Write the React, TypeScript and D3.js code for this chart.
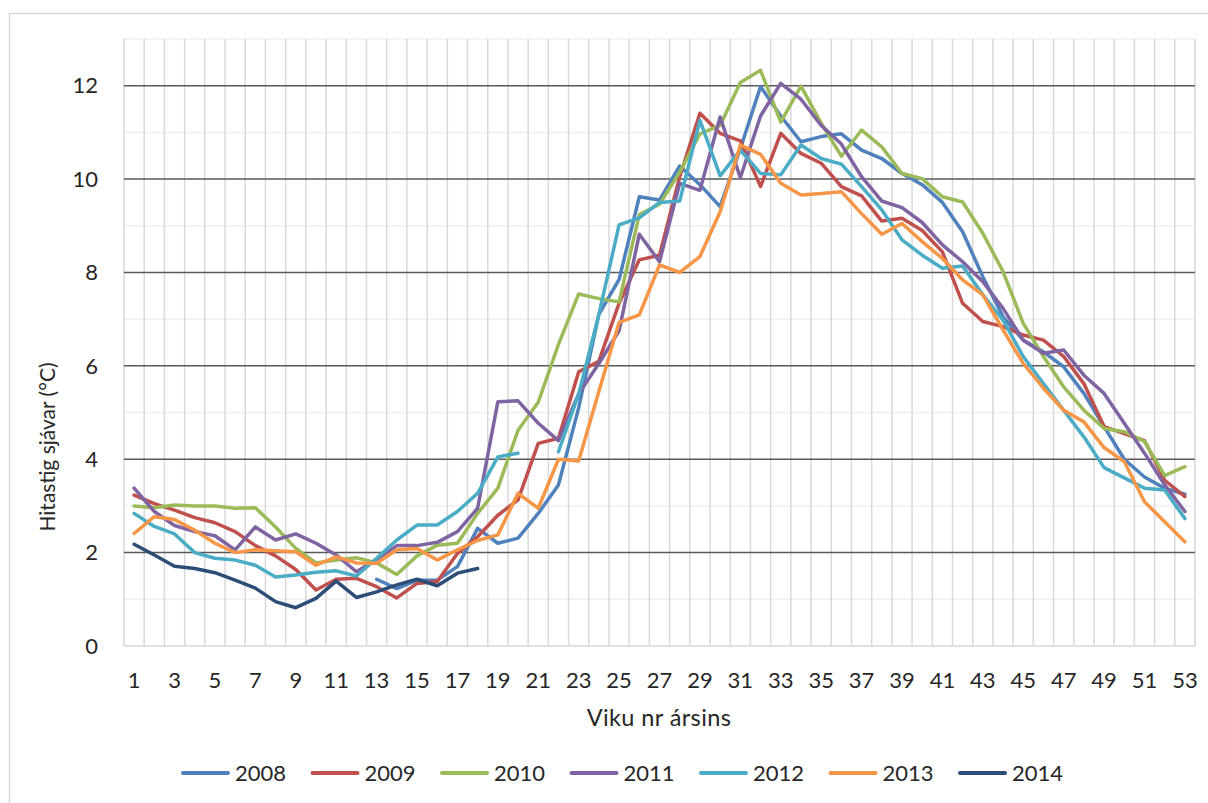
import React, { useEffect, useRef } from 'react';
import * as d3 from 'd3';

const weeks: number[] = d3.range(1, 54);
const tickWeeks: number[] = weeks.filter((w) => w % 2 === 1);
const yTicks: number[] = [0, 2, 4, 6, 8, 10, 12];
const years: string[] = ['2008', '2009', '2010', '2011', '2012', '2013', '2014'];
const colors: string[] = ['#4F81BD', '#C0504D', '#9BBB59', '#8064A2', '#4BACC6', '#F79646', '#2C4D75'];

const n = null;
const s2008: (number | null)[] = [n, n, n, n, n, n, n, n, n, n, n, n, 1.43, 1.23, 1.41, 1.41, 1.7, 2.52, 2.2, 2.31,
  2.84, 3.45, 5.1, 7.1, 7.85, 9.62, 9.55, 10.28, 9.88, 9.41, 10.65, 11.98, 11.35, 10.8, 10.91, 10.97, 10.62, 10.44, 10.12, 9.88,
  9.5, 8.87, 7.91, 7.05, 6.55, 6.3, 5.98, 5.41, 4.7, 4.0, 3.62, 3.38, 3.25];
const s2009: (number | null)[] = [3.23, 3.05, 2.91, 2.75, 2.64, 2.45, 2.15, 1.93, 1.64, 1.2, 1.43, 1.45, 1.27, 1.03, 1.34, 1.38, 1.98, 2.34, 2.8, 3.13,
  4.34, 4.45, 5.87, 6.1, 7.34, 8.27, 8.37, 10.05, 11.41, 10.98, 10.82, 9.84, 10.98, 10.55, 10.34, 9.84, 9.64, 9.1, 9.16, 8.9,
  8.44, 7.34, 6.95, 6.84, 6.66, 6.55, 6.2, 5.62, 4.7, 4.55, 4.4, 3.55, 3.2];
const s2010: (number | null)[] = [3.0, 2.96, 3.02, 3.0, 3.0, 2.95, 2.96, 2.55, 2.09, 1.78, 1.84, 1.89, 1.78, 1.53, 1.93, 2.16, 2.2, 2.84, 3.38, 4.62,
  5.22, 6.46, 7.54, 7.44, 7.37, 9.24, 9.46, 10.15, 10.97, 11.15, 12.07, 12.33, 11.22, 11.99, 11.2, 10.49, 11.05, 10.69, 10.12, 10.01,
  9.62, 9.51, 8.84, 8.02, 6.91, 6.2, 5.55, 5.05, 4.66, 4.59, 4.38, 3.65, 3.84];
const s2011: (number | null)[] = [3.38, 2.88, 2.58, 2.45, 2.36, 2.06, 2.55, 2.27, 2.4, 2.2, 1.95, 1.59, 1.85, 2.15, 2.15, 2.22, 2.45, 2.95, 5.23, 5.25,
  4.77, 4.4, 5.4, 6.05, 6.75, 8.82, 8.23, 9.91, 9.76, 11.33, 10.03, 11.35, 12.05, 11.71, 11.15, 10.75, 10.05, 9.53, 9.39, 9.07,
  8.59, 8.23, 7.8, 7.23, 6.55, 6.27, 6.34, 5.8, 5.41, 4.77, 4.13, 3.45, 2.88];
const s2012: (number | null)[] = [2.84, 2.56, 2.4, 2.0, 1.88, 1.84, 1.73, 1.48, 1.52, 1.58, 1.61, 1.5, 1.88, 2.27, 2.59, 2.59, 2.88, 3.27, 4.05, 4.13,
  n, 4.16, 5.4, 7.1, 9.02, 9.17, 9.5, 9.53, 11.26, 10.07, 10.62, 10.12, 10.09, 10.73, 10.44, 10.32, 9.84, 9.34, 8.7, 8.37,
  8.09, 8.14, 7.52, 6.98, 6.2, 5.62, 5.05, 4.48, 3.82, 3.6, 3.38, 3.34, 2.73];
const s2013: (number | null)[] = [2.41, 2.77, 2.71, 2.48, 2.2, 2.0, 2.06, 2.04, 2.02, 1.73, 1.91, 1.78, 1.77, 2.06, 2.09, 1.84, 2.06, 2.26, 2.38, 3.27,
  2.95, 4.0, 3.96, 5.45, 6.93, 7.09, 8.16, 8.0, 8.34, 9.3, 10.73, 10.53, 9.91, 9.66, 9.69, 9.73, 9.26, 8.82, 9.05, 8.66,
  8.3, 7.84, 7.52, 6.77, 6.05, 5.52, 5.05, 4.8, 4.25, 3.95, 3.09, 2.66, 2.23];
const s2014: (number | null)[] = [2.18, 1.95, 1.71, 1.66, 1.57, 1.41, 1.24, 0.95, 0.82, 1.02, 1.39, 1.04, 1.16, 1.31, 1.43, 1.29, 1.56, 1.66];

const seriesValues = [s2008, s2009, s2010, s2011, s2012, s2013, s2014];

const FONT = 'Lato, "Open Sans", sans-serif';

function Chart() {
  const ref = useRef<SVGSVGElement>(null);

  useEffect(() => {
    const svg = d3.select(ref.current);
    svg.selectAll('*').remove();

    const left = 124;
    const right = 1195;
    const top = 39;
    const bottom = 646;

    const x = d3.scaleBand<string>()
      .domain(weeks.map(String))
      .range([left, right]);
    const y = d3.scaleLinear()
      .domain([0, 13])
      .range([bottom, top]);
    const cx = (w: number) => (x(String(w)) as number) + x.bandwidth() / 2;

    // chart border
    svg.append('rect')
      .attr('x', 9.5).attr('y', 13.5)
      .attr('width', 1230).attr('height', 820)
      .attr('fill', 'white')
      .attr('stroke', '#D9D9D9')
      .attr('stroke-width', 1.5);

    // minor horizontal grid
    svg.append('g')
      .selectAll('line')
      .data([1, 3, 5, 7, 9, 11, 13])
      .enter()
      .append('line')
      .attr('x1', left).attr('x2', right)
      .attr('y1', (d) => y(d)).attr('y2', (d) => y(d))
      .attr('stroke', '#F0F0F0')
      .attr('stroke-width', 1.5);

    // vertical grid
    svg.append('g')
      .selectAll('line')
      .data(d3.range(0, weeks.length + 1))
      .enter()
      .append('line')
      .attr('x1', (i) => left + i * x.step()).attr('x2', (i) => left + i * x.step())
      .attr('y1', top).attr('y2', bottom)
      .attr('stroke', '#D9D9D9')
      .attr('stroke-width', 1.5);

    // major horizontal grid
    svg.append('g')
      .selectAll('line')
      .data(yTicks.filter((d) => d > 0))
      .enter()
      .append('line')
      .attr('x1', left).attr('x2', right)
      .attr('y1', (d) => y(d)).attr('y2', (d) => y(d))
      .attr('stroke', '#595959')
      .attr('stroke-width', 1.5);

    // bottom axis line
    svg.append('line')
      .attr('x1', left).attr('x2', right)
      .attr('y1', bottom).attr('y2', bottom)
      .attr('stroke', '#D9D9D9')
      .attr('stroke-width', 1.5);

    // y tick labels
    svg.append('g')
      .selectAll('text')
      .data(yTicks)
      .enter()
      .append('text')
      .attr('x', 98)
      .attr('y', (d) => y(d))
      .attr('dy', '0.35em')
      .attr('text-anchor', 'end')
      .attr('font-family', FONT)
      .attr('font-size', 22)
      .attr('fill', '#262626')
      .text((d) => d);

    // x tick labels
    svg.append('g')
      .selectAll('text')
      .data(tickWeeks)
      .enter()
      .append('text')
      .attr('x', (d) => cx(d))
      .attr('y', 680)
      .attr('dy', '0.35em')
      .attr('text-anchor', 'middle')
      .attr('font-family', FONT)
      .attr('font-size', 22)
      .attr('fill', '#262626')
      .text((d) => d);

    // axis titles
    svg.append('text')
      .attr('x', 659)
      .attr('y', 718)
      .attr('dy', '0.35em')
      .attr('text-anchor', 'middle')
      .attr('font-family', FONT)
      .attr('font-size', 23.5)
      .attr('letter-spacing', 0.4)
      .attr('fill', '#262626')
      .text('Viku nr ársins');

    svg.append('text')
      .attr('transform', 'translate(48, 447) rotate(-90)')
      .attr('dy', '0.35em')
      .attr('text-anchor', 'middle')
      .attr('font-family', FONT)
      .attr('font-size', 21)
      .attr('fill', '#262626')
      .text('Hitastig sjávar (°C)');

    // series lines
    const line = d3.line<number | null>()
      .defined((d) => d !== null)
      .x((d, i) => cx(weeks[i]))
      .y((d) => y(d as number));

    svg.append('g')
      .selectAll('path')
      .data(seriesValues)
      .enter()
      .append('path')
      .attr('d', (d) => line(d))
      .attr('fill', 'none')
      .attr('stroke', (d, i) => colors[i])
      .attr('stroke-width', 3.5)
      .attr('stroke-linejoin', 'round')
      .attr('stroke-linecap', 'round');

    // legend
    const legend = svg.append('g')
      .selectAll('g')
      .data(years)
      .enter()
      .append('g')
      .attr('transform', (d, i) => `translate(${183 + i * 129.5}, 773)`);

    legend.append('line')
      .attr('x1', 0).attr('x2', 45)
      .attr('y1', 0).attr('y2', 0)
      .attr('stroke', (d, i) => colors[i])
      .attr('stroke-width', 4)
      .attr('stroke-linecap', 'round');

    legend.append('text')
      .attr('x', 52)
      .attr('y', 0)
      .attr('dy', '0.35em')
      .attr('font-family', FONT)
      .attr('font-size', 22)
      .attr('fill', '#262626')
      .text((d) => d);
  }, []);

  return <svg ref={ref} width={1208} height={803} style={{ position: 'absolute', left: 0, top: 0 }} />;
}

export default function App() {
  return <Chart />;
}
